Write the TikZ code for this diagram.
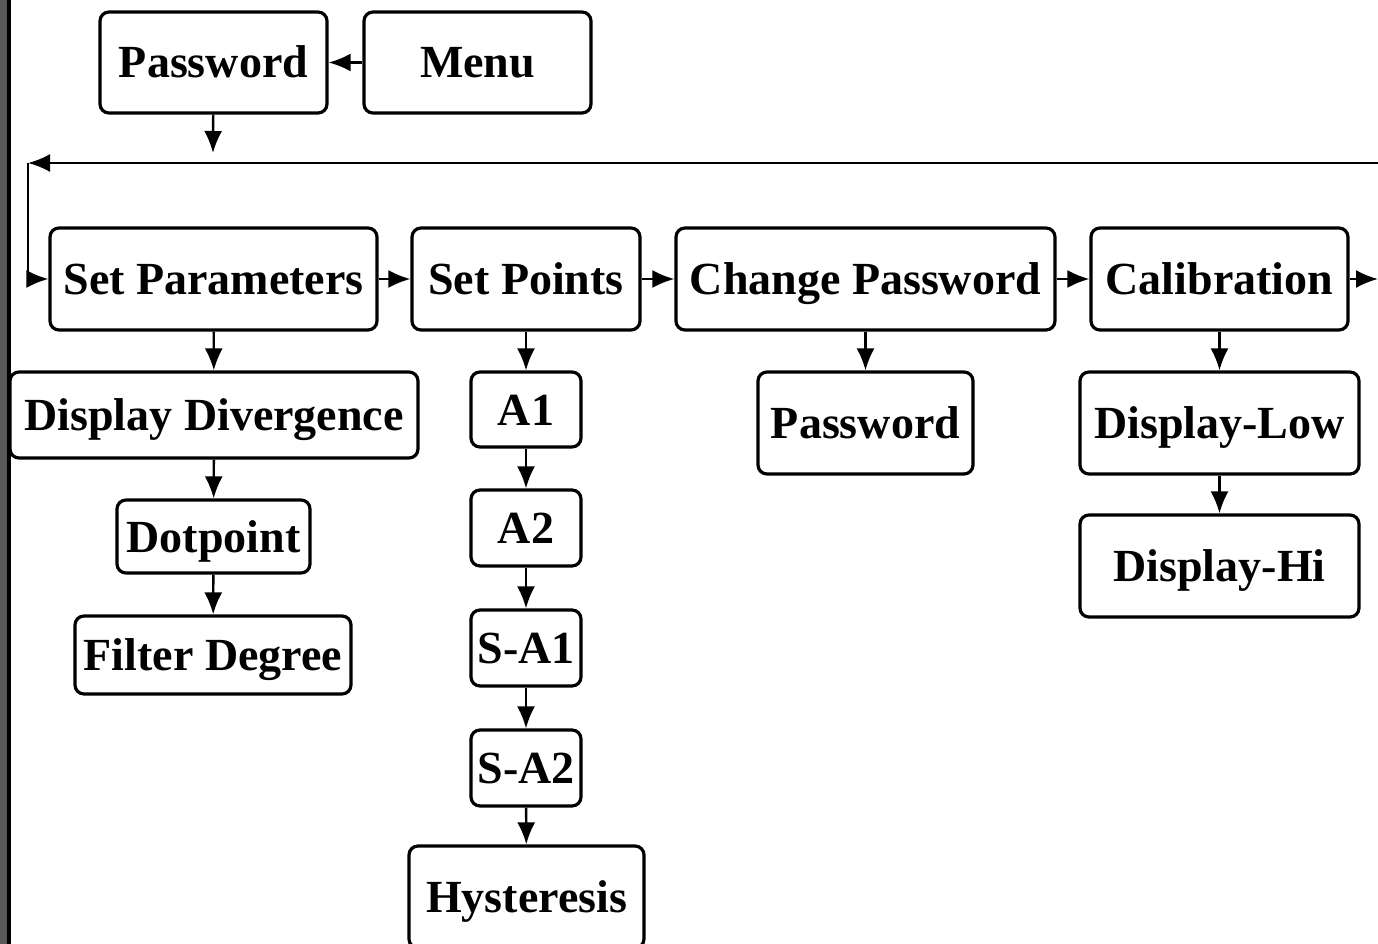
\documentclass[tikz,border=0pt]{standalone}
\usepackage{fontspec}
\setmainfont{Liberation Serif}
\usetikzlibrary{arrows.meta}

\begin{document}
\begin{tikzpicture}[x=1pt,y=-1pt,
	box/.style={draw,line width=3.2pt,rounded corners=9pt,inner sep=0pt,
		text height=31pt,text depth=0pt,font=\fontsize{46}{50}\selectfont\bfseries},
	arr/.style={line width=2.4pt,-{Latex[length=22pt,width=18pt]}}]
	\clip (0,0) rectangle (1378,944);
	\fill[white] (0,0) rectangle (1378,944);
	\fill[black!65] (0,0) rectangle (7,944);
	\fill[black] (7,0) rectangle (11,944);
	% top row
	\node[box,minimum width=227pt,minimum height=101pt] (pwd) at (213.5,62.5) {Password};
	\node[box,minimum width=227pt,minimum height=101pt] (menu) at (477.5,62.5) {Menu};
	% main row
	\node[box,minimum width=327pt,minimum height=102pt] (setpar) at (213.5,279) {Set Parameters};
	\node[box,minimum width=228pt,minimum height=102pt] (setpts) at (526,279) {Set Points};
	\node[box,minimum width=379pt,minimum height=102pt] (chgpwd) at (865.5,279) {Change Password};
	\node[box,minimum width=257pt,minimum height=102pt] (calib) at (1219.5,279) {Calibration};
	% parameters
	\node[box,minimum width=408pt,minimum height=86pt] (dispdiv) at (214,415) {Display Divergence};
	\node[box,minimum width=193pt,minimum height=73pt] (dotpt) at (213.5,536.5) {Dotpoint};
	\node[box,minimum width=276pt,minimum height=78pt] (filter) at (213,655) {Filter Degree};
	% set points
	\node[box,minimum width=110pt,minimum height=75pt] (a1) at (526,409.5) {A1};
	\node[box,minimum width=110pt,minimum height=76pt] (a2) at (526,528) {A2};
	\node[box,minimum width=110pt,minimum height=76pt] (sa1) at (526,648) {S-A1};
	\node[box,minimum width=110pt,minimum height=76pt] (sa2) at (526,768) {S-A2};
	\node[box,minimum width=235pt,minimum height=102pt] (hyst) at (526.5,897) {Hysteresis};
	% password / calibration
	\node[box,minimum width=215pt,minimum height=102pt] (pwdnew) at (865.5,423) {Password};
	\node[box,minimum width=279pt,minimum height=102pt] (displow) at (1219.5,423) {Display-Low};
	\node[box,minimum width=279pt,minimum height=102pt] (disphi) at (1219.5,566) {Display-Hi};
	% loose ends
	\coordinate (pwdend) at (213,153);
	\coordinate (loopin) at (1378,163);
	\coordinate (corner) at (28,163);
	\coordinate (calout) at (1378,279);
	% connectors
	\draw[arr] (menu) -- (pwd);
	\draw[arr] (pwd) -- (pwdend);
	\draw[arr] (loopin) -- (corner);
	\draw[arr] (corner) |- (setpar);
	\draw[arr] (setpar) -- (setpts);
	\draw[arr] (setpts) -- (chgpwd);
	\draw[arr] (chgpwd) -- (calib);
	\draw[arr] (calib) -- (calout);
	\draw[arr] (setpar) -- (dispdiv);
	\draw[arr] (dispdiv) -- (dotpt);
	\draw[arr] (dotpt) -- (filter);
	\draw[arr] (setpts) -- (a1);
	\draw[arr] (a1) -- (a2);
	\draw[arr] (a2) -- (sa1);
	\draw[arr] (sa1) -- (sa2);
	\draw[arr] (sa2) -- (hyst);
	\draw[arr] (chgpwd) -- (pwdnew);
	\draw[arr] (calib) -- (displow);
	\draw[arr] (displow) -- (disphi);
\end{tikzpicture}
\end{document}
